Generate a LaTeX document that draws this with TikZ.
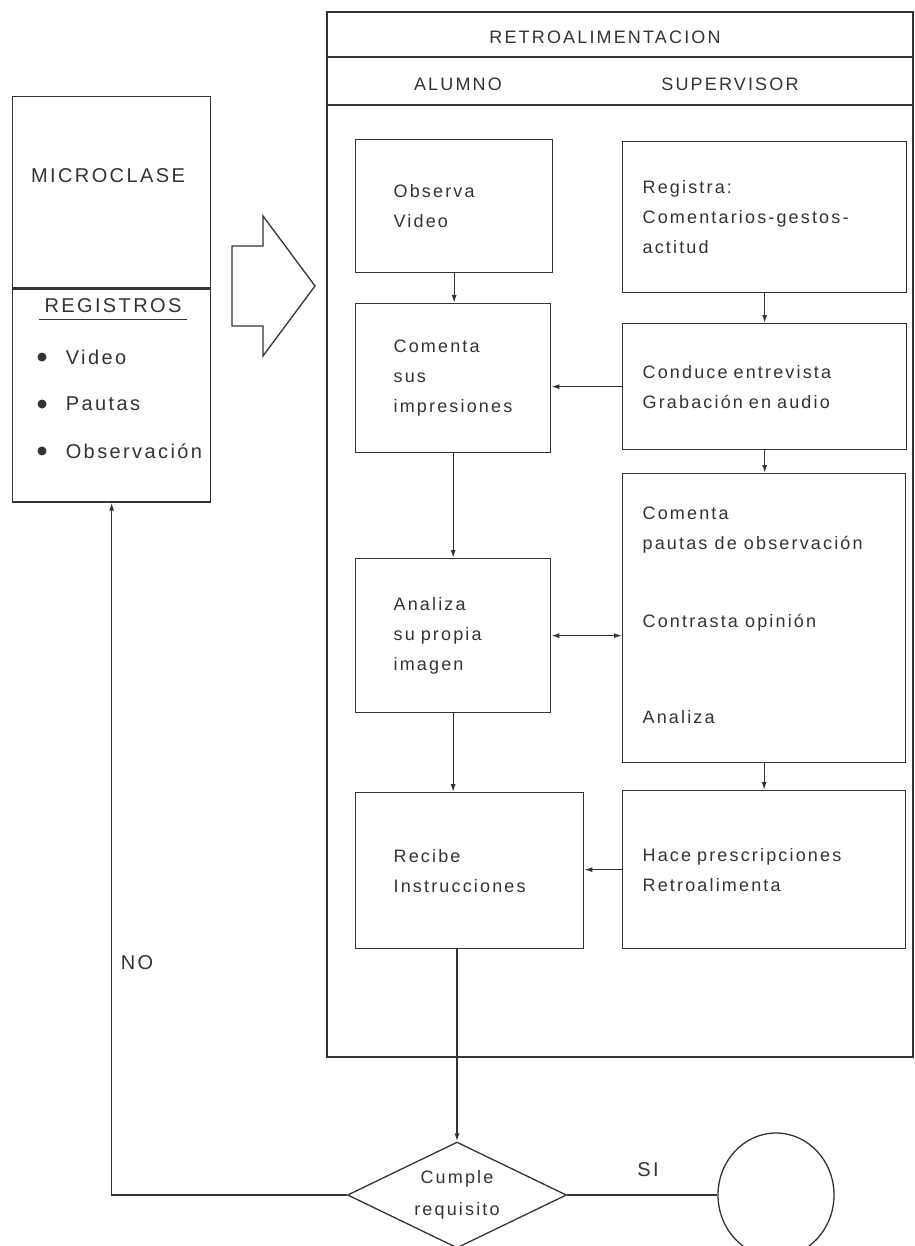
\documentclass[tikz,border=0pt]{standalone}
\usepackage{fontspec}
\setmainfont{Liberation Sans}[LetterSpace=12]
\usetikzlibrary{positioning, shapes.geometric, arrows.meta}

\begin{document}
\begin{tikzpicture}[x=1pt, y=-1pt, line width=1.3pt, color=black!80,
    >={Latex[length=8pt,width=5pt]},
    caja/.style = {draw, rectangle, anchor=north west, align=left, inner ysep=0pt, font=\fontsize{18}{30}\selectfont},
    alumno/.style = {caja, inner xsep=38pt},
    superv/.style = {caja, inner xsep=20pt},
    marco/.style = {draw, rectangle, minimum width=198pt, inner sep=0pt},
    rotulo/.style = {font=\fontsize{18}{22}\selectfont, inner sep=0pt},
    grande/.style = {font=\fontsize{20}{24}\selectfont, inner sep=0pt},
    punto/.style = {circle, fill, minimum size=9pt, inner sep=0pt},
    decision/.style = {draw, diamond, aspect=2.07, minimum width=219pt, minimum height=106pt, inner sep=0pt, align=center, font=\fontsize{18}{32}\selectfont},
    final/.style = {draw, ellipse, minimum width=116pt, minimum height=124pt}]
    \useasboundingbox (0,0) rectangle (914,1246);

    % microclase
    \node[marco, minimum height=191pt, anchor=north west] (mtop) at (12,96) {};
    \node[marco, minimum height=213pt, below=0pt of mtop] (mreg) {};
    \node[grande] (micro) at (108,176) {MICROCLASE};
    \node[grande, inner xsep=5pt, inner ysep=6pt] (regs) at (113,306) {REGISTROS};
    \draw (regs.south west) -- (regs.south east);
    \node[punto] (b1) at (42,357) {};
    \node[punto] (b2) at (42,404) {};
    \node[punto] (b3) at (42,451) {};
    \node[grande, right=18pt of b1] (video) {Video};
    \node[grande, right=18pt of b2] (pautas) {Pautas};
    \node[grande, right=18pt of b3] (observ) {Observación};

    % flecha hueca
    \draw[line join=miter] (232,246) -- (263,246) -- (263,216) -- (315,286) -- (263,356) -- (263,326) -- (232,326) -- cycle;

    % retroalimentacion
    \draw (327,12) rectangle (913,1057);
    \draw (327,57) -- (913,57);
    \draw (327,105) -- (913,105);
    \node[rotulo] (titulo) at (605,37) {RETROALIMENTACION};
    \node[rotulo] (alum) at (458,84) {ALUMNO};
    \node[rotulo] (super) at (730,84) {SUPERVISOR};

    \node[alumno, minimum width=197pt, minimum height=133pt, text width=121pt] (obs) at (355,139) {Observa\\Video};
    \node[alumno, minimum width=195pt, minimum height=149pt, text width=119pt] (com) at (355,303) {Comenta\\sus\\impresiones};
    \node[alumno, minimum width=195pt, minimum height=154pt, text width=119pt] (ana) at (355,558) {Analiza\\su propia\\imagen};
    \node[alumno, minimum width=228pt, minimum height=156pt, text width=152pt] (rec) at (355,792) {Recibe\\Instrucciones};

    \node[superv, minimum width=284pt, minimum height=151pt, text width=244pt] (regi) at (622,141) {Registra:\\Comentarios-gestos-\\actitud};
    \node[superv, minimum width=284pt, minimum height=126pt, text width=244pt] (cond) at (622,323) {Conduce entrevista\\Grabación en audio};
    \node[superv, minimum width=283pt, minimum height=289pt, text width=243pt] (paut) at (622,473) {};
    \node[rotulo, anchor=west] (p1) at (642,513) {Comenta};
    \node[rotulo, anchor=west] (p2) at (642,545) {pautas de observación};
    \node[rotulo, anchor=west] (p3) at (642,623) {Contrasta opinión};
    \node[rotulo, anchor=west] (p4) at (642,717) {Analiza};
    \node[superv, minimum width=283pt, minimum height=158pt, text width=243pt] (hace) at (622,790) {Hace prescripciones\\Retroalimenta};

    \draw[->] (obs.south) -- (obs.south |- com.north);
    \draw[->] (com.south) -- (com.south |- ana.north);
    \draw[->] (ana.south) -- (ana.south |- rec.north);
    \draw[->] (regi.south) -- (regi.south |- cond.north);
    \draw[->] (cond.south) -- (cond.south |- paut.north);
    \draw[->] (paut.south) -- (paut.south |- hace.north);
    \draw[->] (cond.west) -- (cond.west -| com.east);
    \draw[<->] (ana.east) -- (ana.east -| paut.west);
    \draw[->] (hace.west) -- (hace.west -| rec.east);

    % decision
    \node[decision] (cumple) at (457,1195) {Cumple\\requisito};
    \node[final] (fin) at (776,1195) {};
    \draw[->] (cumple.north |- rec.south) -- (cumple.north);
    \draw[->] (cumple.west) -| (mreg.south);
    \draw (cumple.east) -- (fin.west);
    \node[grande] (no) at (137,963) {NO};
    \node[grande] (si) at (648,1170) {SI};
\end{tikzpicture}
\end{document}
